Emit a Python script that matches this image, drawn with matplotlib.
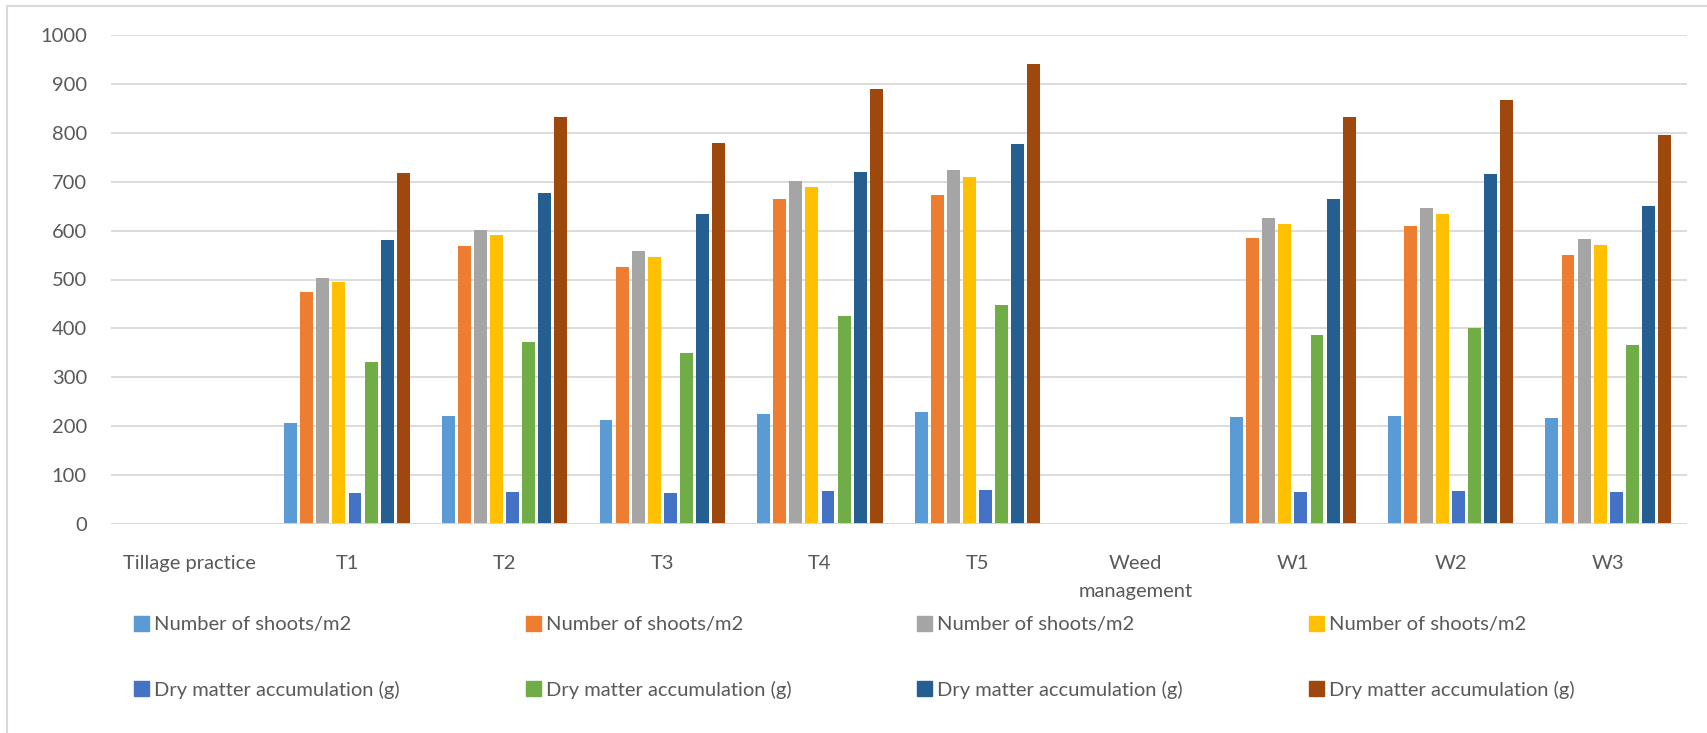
import numpy as np
import matplotlib.pyplot as plt
from matplotlib.patches import Patch
from matplotlib.lines import Line2D

plt.rcParams['font.family'] = ['Lato', 'DejaVu Sans']

categories = ['Tillage practice', 'T1', 'T2', 'T3', 'T4', 'T5',
              'Weed\nmanagement', 'W1', 'W2', 'W3']

# one list per series, NaN for the empty heading categories
nan = np.nan
shoots_1 = [nan, 207, 220, 213, 225, 229, nan, 219, 221, 216]
shoots_2 = [nan, 474, 568, 526, 665, 673, nan, 585, 609, 550]
shoots_3 = [nan, 503, 602, 558, 702, 723, nan, 625, 647, 583]
shoots_4 = [nan, 494, 590, 546, 689, 710, nan, 613, 633, 571]
dry_1 = [nan, 63, 65, 63, 68, 70, nan, 66, 67, 65]
dry_2 = [nan, 331, 372, 349, 425, 447, nan, 387, 400, 367]
dry_3 = [nan, 580, 676, 634, 719, 777, nan, 665, 716, 650]
dry_4 = [nan, 718, 832, 780, 890, 940, nan, 832, 867, 796]

series = [shoots_1, shoots_2, shoots_3, shoots_4, dry_1, dry_2, dry_3, dry_4]
labels = ['Number of shoots/m2'] * 4 + ['Dry matter accumulation (g)'] * 4
colors = ['#5B9BD5', '#ED7D31', '#A5A5A5', '#FFC000',
          '#4472C4', '#70AD47', '#255E91', '#9E480E']

W, H = 1707, 733
fig = plt.figure(figsize=(W / 100, H / 100), dpi=100)
ax = fig.add_axes([110.5 / W, 1 - 524 / H, (1687 - 110.5) / W, (524 - 35) / H])

x = np.arange(len(categories))
step = 0.102
for i, (vals, c) in enumerate(zip(series, colors)):
    ax.bar(x + (i - 3.5) * step, vals, width=0.082, color=c, zorder=3)

ax.set_xlim(-0.5, len(categories) - 0.5)
ax.set_ylim(0, 1000)
ax.set_yticks(range(0, 1001, 100))
ax.yaxis.grid(True, color='#D9D9D9', lw=1.3, zorder=0)
for s in ax.spines.values():
    s.set_visible(False)
ax.axhline(0, color='#D9D9D9', lw=1.3, zorder=4)
ax.set_xticks(x)
ax.set_xticklabels(categories, linespacing=1.8)
ax.tick_params(axis='both', length=0, labelsize=14.5, colors='#595959')
ax.tick_params(axis='y', pad=17)
ax.tick_params(axis='x', pad=22)

# legend: four columns of two entries
col_x = [134, 526, 917, 1309]
for k in range(4):
    hs = [Patch(color=colors[k]), Patch(color=colors[k + 4])]
    fig.legend(hs, [labels[k], labels[k + 4]], loc='upper left',
               bbox_to_anchor=(col_x[k] / W, 1 - 616 / H), frameon=False,
               fontsize=14.5, labelcolor='#595959', borderpad=0, borderaxespad=0,
               handlelength=0.75, handleheight=0.75, handletextpad=0.25,
               labelspacing=2.35)

# outer chart frame
fig.add_artist(Line2D([7 / W, 7 / W, 1], [0, 1 - 5.5 / H, 1 - 5.5 / H],
                      color='#D9D9D9', lw=1.5, transform=fig.transFigure))

fig.savefig('out.png', dpi=100)
